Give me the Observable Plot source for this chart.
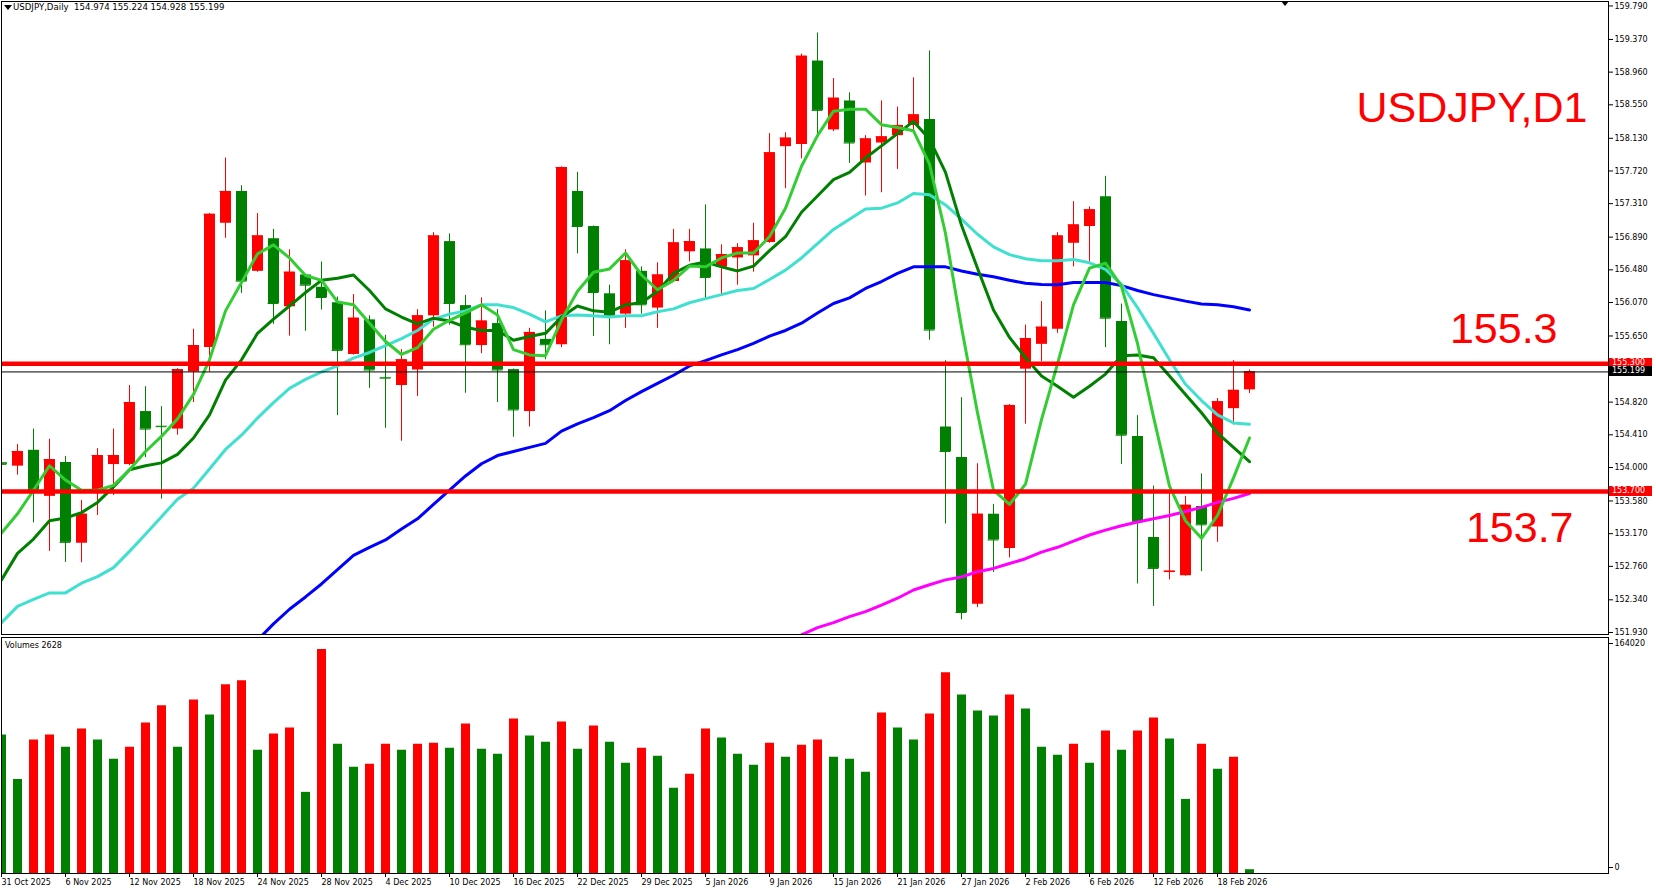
<!DOCTYPE html>
<html><head><meta charset="utf-8">
<script src="https://cdn.jsdelivr.net/npm/d3@7"></script>
<script src="https://cdn.jsdelivr.net/npm/@observablehq/plot@0.6"></script>
<style>
html,body{margin:0;padding:0;background:#fff;}
#wrap{position:relative;width:1656px;height:895px;overflow:hidden;font-family:"DejaVu Sans",sans-serif;background:#fff;}
.panel{position:absolute;left:0;}
.txt{position:absolute;font:8px "DejaVu Sans",sans-serif;color:#000;white-space:pre;line-height:10px;}
.tag{position:absolute;left:1609px;width:43px;height:10px;font:8px "DejaVu Sans",sans-serif;color:#fff;line-height:10px;padding-left:3px;box-sizing:border-box;white-space:pre;}
.tri{position:absolute;width:0;height:0;border-left:4px solid transparent;border-right:4px solid transparent;border-top:5px solid #000;}
</style></head><body><div id="wrap"></div>
<script>
// ---------- data ----------
const open = [154.06,154.017,154.216,153.638,154.063,153.050,153.684,154.037,154.037,154.702,
154.518,154.482,155.198,155.504,157.064,157.463,156.461,156.870,156.016,156.415,
156.261,156.067,155.418,155.852,155.130,155.029,155.223,155.903,156.834,156.031,
155.530,155.806,155.228,154.702,155.607,155.540,157.463,157.023,156.179,155.924,
156.461,156.000,156.333,156.706,156.742,156.512,156.629,156.655,156.824,158.025,
158.051,159.099,158.235,158.598,157.820,158.071,158.163,158.291,158.367,154.508,
154.124,152.284,153.414,152.984,155.234,155.545,155.735,156.813,157.023,157.396,
155.832,154.390,153.122,152.682,152.642,153.511,153.255,154.738,154.974];
const high = [154.41,154.288,154.482,154.354,154.139,153.587,154.237,154.482,155.029,155.014,
154.763,155.240,155.735,157.186,157.882,157.534,157.186,156.987,156.731,156.420,
156.578,156.138,156.169,155.903,155.658,155.479,155.980,156.946,156.931,156.159,
156.128,155.980,155.235,155.745,155.965,157.770,157.703,157.030,156.287,156.731,
156.517,156.568,156.987,156.987,157.294,156.793,156.808,157.064,158.189,158.199,
159.186,159.451,158.879,158.700,158.163,158.598,158.521,158.889,159.226,155.341,
154.876,154.047,153.536,154.789,155.786,156.082,156.946,157.335,157.268,157.652,
156.050,154.651,153.766,153.690,153.638,153.920,154.865,155.341,155.224];
const low = [153.90,153.904,153.306,152.948,152.810,152.805,153.398,153.649,154.022,154.124,
153.603,154.405,154.814,155.198,156.875,156.184,156.450,155.796,155.648,155.709,
155.975,154.651,155.410,154.993,154.492,154.329,154.891,155.760,155.786,154.932,
155.428,154.814,154.380,154.508,155.351,155.504,156.680,155.643,155.540,155.745,
155.924,155.745,156.322,156.578,156.118,156.159,156.287,156.450,156.815,157.498,
157.872,158.163,158.214,157.815,157.406,157.447,157.739,158.214,155.597,153.291,
152.089,152.243,152.682,152.866,154.543,155.326,155.683,156.517,156.578,155.504,
154.037,152.539,152.258,152.590,152.637,152.693,153.061,154.533,154.928];
const close = [154.04,154.201,153.725,154.099,153.061,153.414,154.150,154.150,154.814,154.482,
154.512,155.228,155.530,157.176,157.463,156.338,156.905,156.057,156.450,156.287,
156.133,155.469,155.873,155.223,155.121,155.351,155.903,156.905,156.057,155.540,
155.837,155.223,154.722,155.694,155.540,157.764,157.023,156.195,155.903,156.593,
156.041,156.415,156.818,156.834,156.384,156.670,156.757,156.844,157.948,158.132,
159.160,158.480,158.633,158.071,158.122,158.148,158.291,158.424,155.724,154.201,
152.181,153.414,153.091,154.779,155.617,155.760,156.905,157.043,157.233,155.873,
154.405,153.316,152.734,152.700,153.526,153.281,154.825,154.968,155.199];
const volume = [96200,65400,92700,96200,87800,100400,92700,79400,87800,104600,
116500,87800,120600,110200,131100,133900,85700,96900,101100,56400,
155600,89900,73800,75900,89900,85700,89900,90600,87100,103900,
86400,82900,107400,95500,91300,105300,86400,102500,91300,76600,
87100,81500,59200,68900,100400,94100,82900,75200,90600,80800,
89200,92700,80800,79400,70300,111600,101100,92700,110900,139500,
124100,113000,109500,124100,114400,87800,82200,89900,76600,99000,
85700,99000,108100,93400,51500,89900,72400,80800,2628];
// moving averages as drawn (lime, dark green, turquoise, blue, magenta)
const maFast = [153.178,153.419,153.715,154.022,153.843,153.715,153.715,153.776,153.971,154.201,
154.390,154.610,154.917,155.351,155.965,156.322,156.680,156.793,156.629,156.409,
156.348,156.077,156.041,155.811,155.581,155.418,155.504,155.735,155.847,155.939,
156.041,155.913,155.479,155.412,155.402,155.850,156.210,156.450,156.491,156.691,
156.415,156.230,156.348,156.527,156.517,156.629,156.691,156.691,156.895,157.253,
157.780,158.163,158.470,158.495,158.495,158.301,158.265,158.224,157.805,156.936,
155.760,154.687,153.715,153.536,153.792,154.600,155.300,156.041,156.501,156.563,
156.271,155.556,154.635,153.766,153.332,153.112,153.398,153.869,154.370];
const maMid = [152.590,152.923,153.102,153.332,153.367,153.434,153.562,153.756,153.971,154.022,
154.058,154.165,154.370,154.661,155.096,155.351,155.683,155.862,156.026,156.195,
156.348,156.374,156.415,156.220,155.990,155.888,155.801,155.873,155.837,155.760,
155.719,155.719,155.597,155.643,155.683,155.888,156.026,155.965,155.949,156.041,
156.067,156.210,156.435,156.537,156.578,156.517,156.466,156.527,156.721,156.895,
157.202,157.406,157.611,157.703,157.882,158.035,158.189,158.342,158.120,157.703,
157.038,156.500,155.975,155.632,155.377,155.147,155.019,154.881,155.019,155.172,
155.402,155.412,155.377,155.147,154.917,154.687,154.431,154.252,154.073];
const maSlow = [152.054,152.258,152.345,152.427,152.427,152.549,152.631,152.744,152.948,153.163,
153.383,153.603,153.741,153.981,154.226,154.405,154.620,154.814,154.993,155.106,
155.198,155.274,155.372,155.443,155.530,155.617,155.719,155.862,155.924,155.965,
156.041,156.041,156.006,155.924,155.827,155.903,155.913,155.903,155.888,155.903,
155.903,155.954,155.990,156.067,156.118,156.169,156.220,156.246,156.358,156.476,
156.629,156.808,156.987,157.115,157.243,157.253,157.319,157.437,157.422,157.294,
157.115,156.926,156.767,156.670,156.619,156.593,156.593,156.609,156.568,156.486,
156.297,156.006,155.683,155.351,155.044,154.840,154.661,154.559,154.543];
const maBlue = [null,null,null,null,null,null,null,null,null,null,null,null,null,null,null,null,
151.834,152.038,152.222,152.376,152.539,152.718,152.897,152.999,153.091,153.229,
153.357,153.536,153.715,153.894,154.047,154.150,154.201,154.252,154.303,154.456,
154.548,154.625,154.712,154.840,154.952,155.055,155.157,155.274,155.341,155.412,
155.479,155.556,155.648,155.719,155.811,155.939,156.057,156.128,156.246,156.333,
156.435,156.517,156.517,156.517,156.466,156.425,156.394,156.348,156.312,156.297,
156.292,156.322,156.322,156.322,156.282,156.220,156.169,156.128,156.087,156.052,
156.041,156.016,155.975];
const maMagenta = Array(50).fill(null).concat([151.900,151.992,152.054,152.130,152.192,152.273,152.360,152.463,152.529,152.590,
152.626,152.693,152.734,152.795,152.856,152.938,152.999,153.076,153.153,153.214,
153.270,153.316,153.357,153.398,153.449,153.500,153.562,153.613,153.674]);
const priceTicks = [159.79,159.37,158.96,158.55,158.13,157.72,157.31,156.89,156.48,156.07,155.65,154.82,154.41,154.00,153.58,153.17,152.76,152.34,151.93];
const dateTickIndex = [0,4,8,12,16,20,24,28,32,36,40,44,48,52,56,60,64,68,72,76];
const dateTickLabels = ["31 Oct 2025","6 Nov 2025","12 Nov 2025","18 Nov 2025","24 Nov 2025","28 Nov 2025","4 Dec 2025","10 Dec 2025","16 Dec 2025","22 Dec 2025","29 Dec 2025","5 Jan 2026","9 Jan 2026","15 Jan 2026","21 Jan 2026","27 Jan 2026","2 Feb 2026","6 Feb 2026","12 Feb 2026","18 Feb 2026"];
const levels = [155.3, 153.7];
const levelTexts = ["155.3", "153.7"];
const lastPrice = 155.199;
const volMax = 164020;
const symbol = "USDJPY";
const headerText = "USDJPY,Daily  154.974 155.224 154.928 155.199";

// ---------- build ----------
const RED = "#ff0000", GREEN = "#008000";
const candles = open.map((o, i) => ({i, open: o, high: high[i], low: low[i], close: close[i], up: close[i] >= o}));
const vols = volume.map((v, i) => ({i, v, rising: i > 0 && v > volume[i - 1]}));
const xDomain = [0, 1607 / 16];
const FONT = '"DejaVu Sans", sans-serif';
const BIG = '"Liberation Sans", Arial, sans-serif';

const wrap = document.getElementById("wrap");

const main = Plot.plot({
  width: 1656, height: 636,
  marginLeft: 1, marginRight: 48, marginTop: 1, marginBottom: 2,
  style: {fontFamily: FONT, fontSize: "8px", background: "white", color: "black", overflow: "visible"},
  x: {domain: xDomain, axis: null},
  y: {domain: [151.905, 159.846], axis: null},
  marks: [
    Plot.ruleX(candles, {filter: d => d.up, x: "i", y1: "low", y2: "high", stroke: RED, strokeWidth: 1, clip: true}),
    Plot.ruleX(candles, {filter: d => !d.up, x: "i", y1: "low", y2: "high", stroke: GREEN, strokeWidth: 1, clip: true}),
    Plot.ruleX(candles, {filter: d => d.up, x: "i", y1: "open", y2: "close", stroke: RED, strokeWidth: 11, clip: true}),
    Plot.ruleX(candles, {filter: d => !d.up, x: "i", y1: "open", y2: "close", stroke: GREEN, strokeWidth: 11, clip: true}),
    Plot.ruleY(candles, {filter: d => d.up, y: "close", x1: d => d.i - 0.34, x2: d => d.i + 0.34, stroke: RED, strokeWidth: 1, clip: true}),
    Plot.ruleY(candles, {filter: d => !d.up, y: "close", x1: d => d.i - 0.34, x2: d => d.i + 0.34, stroke: GREEN, strokeWidth: 1, clip: true}),
    Plot.lineY(maMagenta, {stroke: "#ff00ff", strokeWidth: 3, clip: true}),
    Plot.lineY(maBlue, {stroke: "#0000ff", strokeWidth: 3, clip: true}),
    Plot.lineY(maSlow, {stroke: "#40e0d0", strokeWidth: 3, clip: true}),
    Plot.lineY(maMid, {stroke: "#008000", strokeWidth: 3, clip: true}),
    Plot.lineY(maFast, {stroke: "#32cd32", strokeWidth: 3, clip: true}),
    Plot.ruleY([lastPrice], {stroke: "black", strokeWidth: 1}),
    Plot.ruleY(levels, {stroke: RED, strokeWidth: 4.5}),
    Plot.text([symbol + ",D1"], {frameAnchor: "top-right", dx: -21, dy: 120, lineAnchor: "bottom", textAnchor: "end", fill: RED, fontSize: 43, fontFamily: BIG}),
    Plot.text([levelTexts[0]], {y: [levels[0]], frameAnchor: "right", dx: -51, dy: -21, lineAnchor: "bottom", textAnchor: "end", fill: RED, fontSize: 43, fontFamily: BIG}),
    Plot.text([levelTexts[1]], {y: [levels[1]], frameAnchor: "right", dx: -35, dy: 20, lineAnchor: "top", textAnchor: "end", fill: RED, fontSize: 43, fontFamily: BIG}),
    Plot.axisY({anchor: "right", label: null, ticks: priceTicks, tickFormat: d => d.toFixed(3), tickSize: 4, tickPadding: 2, fontSize: 8}),
    Plot.frame({stroke: "black"})
  ]
});
const mainDiv = document.createElement("div");
mainDiv.className = "panel"; mainDiv.style.top = "0px";
mainDiv.appendChild(main);
wrap.appendChild(mainDiv);

const volPlot = Plot.plot({
  width: 1656, height: 259,
  marginLeft: 1, marginRight: 48, marginTop: 1, marginBottom: 22,
  style: {fontFamily: FONT, fontSize: "8px", background: "white", color: "black", overflow: "visible"},
  x: {domain: xDomain, axis: null},
  y: {domain: [0, volMax], axis: null},
  marks: [
    Plot.ruleX(vols, {filter: d => d.rising, x: "i", y1: 0, y2: "v", stroke: RED, strokeWidth: 9, clip: true}),
    Plot.ruleX(vols, {filter: d => !d.rising, x: "i", y1: 0, y2: "v", stroke: GREEN, strokeWidth: 9, clip: true}),
    Plot.axisY({anchor: "right", label: null, ticks: [volMax], tickFormat: d => String(d), tickSize: 4, tickPadding: 2, dy: 6, fontSize: 8}),
    Plot.axisY({anchor: "right", label: null, ticks: [0], tickFormat: d => String(d), tickSize: 4, tickPadding: 2, dy: -6, fontSize: 8}),
    Plot.axisX({anchor: "bottom", label: null, ticks: dateTickIndex, tickFormat: d => dateTickLabels[dateTickIndex.indexOf(d)], textAnchor: "start", tickSize: 4, tickPadding: 2, fontSize: 8}),
    Plot.frame({stroke: "black"})
  ]
});
const volDiv = document.createElement("div");
volDiv.className = "panel"; volDiv.style.top = "636px";
volDiv.appendChild(volPlot);
wrap.appendChild(volDiv);

// ---------- overlays ----------
const ys = main.scale("y");
function addTag(value, bg, label) {
  const t = document.createElement("div");
  t.className = "tag";
  t.style.background = bg;
  t.style.top = (ys.apply(value) - 5) + "px";
  t.textContent = label;
  wrap.appendChild(t);
}
addTag(levels[0], RED, levels[0].toFixed(3));
addTag(lastPrice, "#000", lastPrice.toFixed(3));
addTag(levels[1], RED, levels[1].toFixed(3));

const hdr = document.createElement("div");
hdr.className = "txt"; hdr.style.left = "13px"; hdr.style.top = "2px"; hdr.style.fontSize = "8.6px";
hdr.textContent = headerText;
wrap.appendChild(hdr);
const tri1 = document.createElement("div");
tri1.className = "tri"; tri1.style.left = "4px"; tri1.style.top = "5px";
wrap.appendChild(tri1);
const tri2 = document.createElement("div");
tri2.className = "tri"; tri2.style.left = "1281px"; tri2.style.top = "1px";
wrap.appendChild(tri2);
const vlab = document.createElement("div");
vlab.className = "txt"; vlab.style.left = "5px"; vlab.style.top = "641px";
vlab.textContent = "Volumes " + volume[volume.length - 1];
wrap.appendChild(vlab);
</script></body></html>
